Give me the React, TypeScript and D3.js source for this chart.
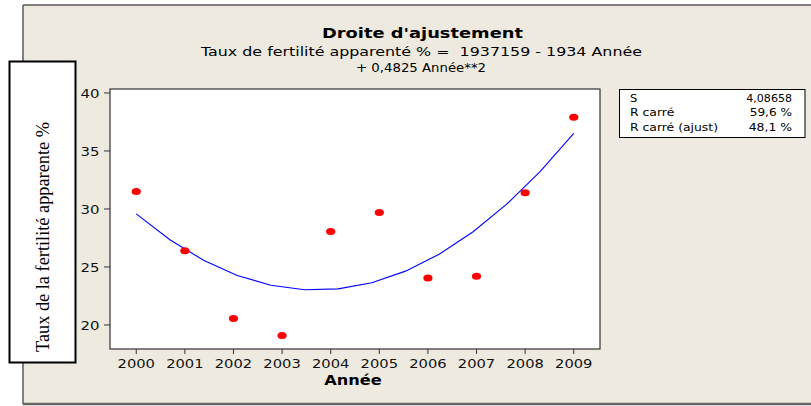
import React from "react";
import * as d3 from "d3";

// ---- data ----
const years = [2000, 2001, 2002, 2003, 2004, 2005, 2006, 2007, 2008, 2009];
const rates = [31.5, 26.4, 20.55, 19.1, 28.05, 29.7, 24.05, 24.2, 31.4, 37.9];
const yTicks = [20, 25, 30, 35, 40];
const xTicks = years;
const statLabels = ["S", "R carré", "R carré (ajust)"];
const statValues = ["4,08658", "59,6 %", "48,1 %"];
const titleText = "Droite d'ajustement";
const subtitle1 = "Taux de fertilité apparenté % =  1937159 - 1934 Année";
const subtitle2 = "+ 0,4825 Année**2";
const xTitle = "Année";
const yTitle = "Taux de la fertilité apparente %";

// least-squares quadratic fit of the data (centered)
function fitQuadratic(xs: number[], ys: number[]) {
  const n = xs.length;
  const mx = d3.mean(xs) as number;
  const t = xs.map((x) => x - mx);
  let s1 = 0, s2 = 0, s3 = 0, s4 = 0, sy = 0, sty = 0, st2y = 0;
  for (let i = 0; i < n; i++) {
    const ti = t[i];
    s1 += ti; s2 += ti * ti; s3 += ti ** 3; s4 += ti ** 4;
    sy += ys[i]; sty += ti * ys[i]; st2y += ti * ti * ys[i];
  }
  const A = [
    [n, s1, s2, sy],
    [s1, s2, s3, sty],
    [s2, s3, s4, st2y],
  ];
  for (let i = 0; i < 3; i++) {
    for (let k = i + 1; k < 3; k++) {
      const f = A[k][i] / A[i][i];
      for (let j = i; j < 4; j++) A[k][j] -= f * A[i][j];
    }
  }
  const c = A[2][3] / A[2][2];
  const b = (A[1][3] - A[1][2] * c) / A[1][1];
  const a = (A[0][3] - A[0][1] * b - A[0][2] * c) / A[0][0];
  return (x: number) => a + b * (x - mx) + c * (x - mx) ** 2;
}

const W = 811;
const H = 406;
const plot = { left: 110, top: 89, right: 600, bottom: 349 };

const font = "'DejaVu Sans', Verdana, sans-serif";

function T(props: any) {
  const { len, children, ...rest } = props;
  return (
    <text
      fontFamily={font}
      textLength={len}
      lengthAdjust="spacingAndGlyphs"
      style={{ whiteSpace: "pre" }}
      {...rest}
    >
      {children}
    </text>
  );
}

export default function App() {
  const x = d3.scaleLinear().domain([1999.46, 2009.54]).range([plot.left, plot.right]);
  const y = d3.scaleLinear().domain([17.93, 40.34]).range([plot.bottom, plot.top]);

  const f = fitQuadratic(years, rates);
  const segs = 13;
  const fitPts = d3.range(segs + 1).map((i) => {
    const xv = years[0] + ((years[years.length - 1] - years[0]) * i) / segs;
    return [xv, f(xv)] as [number, number];
  });
  const line = d3
    .line<[number, number]>()
    .x((d) => x(d[0]))
    .y((d) => y(d[1]));

  return (
    <svg
      width={W}
      height={H}
      style={{ position: "absolute", left: 0, top: 0, background: "#ffffff" }}
    >
      {/* outer beige panel */}
      <rect x={23} y={5} width={W} height={399} fill="#EEEAE0" />
      <line x1={23} y1={5} x2={W} y2={5} stroke="#5a5a5a" strokeWidth={1.5} />
      <line x1={23} y1={5} x2={23} y2={404} stroke="#5a5a5a" strokeWidth={1.5} />
      <line x1={23} y1={404} x2={W} y2={404} stroke="#666666" strokeWidth={2.5} />

      {/* titles */}
      <T x={322} y={38} len={201} fontSize={14.5} fontWeight="bold" fill="#000">
        {titleText}
      </T>
      <T x={201} y={55.7} len={441} fontSize={12.5} fill="#000">
        {subtitle1}
      </T>
      <T x={421} y={71.7} len={130} fontSize={12.5} textAnchor="middle" fill="#000">
        {subtitle2}
      </T>

      {/* plot area */}
      <rect
        x={plot.left}
        y={plot.top}
        width={plot.right - plot.left}
        height={plot.bottom - plot.top}
        fill="#ffffff"
        stroke="#333333"
        strokeWidth={1.2}
      />

      {/* y axis ticks */}
      {yTicks.map((v) => (
        <g key={"y" + v}>
          <line x1={plot.left - 6} x2={plot.left} y1={y(v)} y2={y(v)} stroke="#333" strokeWidth={1} />
          <T x={99.5} y={y(v) + 4.6} len={19} fontSize={12.8} textAnchor="end" fill="#111">
            {String(v)}
          </T>
        </g>
      ))}

      {/* x axis ticks */}
      {xTicks.map((v) => (
        <g key={"x" + v}>
          <line x1={x(v)} x2={x(v)} y1={plot.bottom} y2={plot.bottom + 5} stroke="#333" strokeWidth={1} />
          <T x={x(v)} y={368} len={37.4} fontSize={12.8} textAnchor="middle" fill="#111">
            {String(v)}
          </T>
        </g>
      ))}

      <T x={353} y={385} len={57.5} fontSize={13.7} fontWeight="bold" textAnchor="middle" fill="#000">
        {xTitle}
      </T>

      {/* fitted curve */}
      <path d={line(fitPts) || ""} fill="none" stroke="#0000ff" strokeWidth={1.1} />

      {/* data points */}
      {years.map((yr, i) => (
        <ellipse key={yr} cx={x(yr)} cy={y(rates[i])} rx={4.6} ry={3.5} fill="#ff0000" />
      ))}

      {/* y title box */}
      <rect x={9.5} y={61.5} width={66} height={301} fill="#ffffff" stroke="#000" strokeWidth={2} />
      <text
        transform={`translate(48.5,237) rotate(-90)`}
        textAnchor="middle"
        fontFamily="'Liberation Serif', 'Times New Roman', serif"
        fontSize={18}
        fill="#000"
        textLength={230}
        lengthAdjust="spacingAndGlyphs"
      >
        {yTitle}
      </text>

      {/* stats box */}
      <rect x={619.5} y={89.5} width={185.5} height={48} fill="#ffffff" stroke="#000" strokeWidth={1} />
      {statLabels.map((s, i) => (
        <T key={s} x={630} y={101.7 + i * 14.7} len={[7.3, 44.3, 88][i]} fontSize={11} fill="#000">
          {s}
        </T>
      ))}
      {statValues.map((s, i) => (
        <T
          key={s}
          x={792}
          y={101.7 + i * 14.7}
          len={[45.7, 42.3, 43.3][i]}
          fontSize={11}
          textAnchor="end"
          fill="#000"
        >
          {s}
        </T>
      ))}
    </svg>
  );
}
